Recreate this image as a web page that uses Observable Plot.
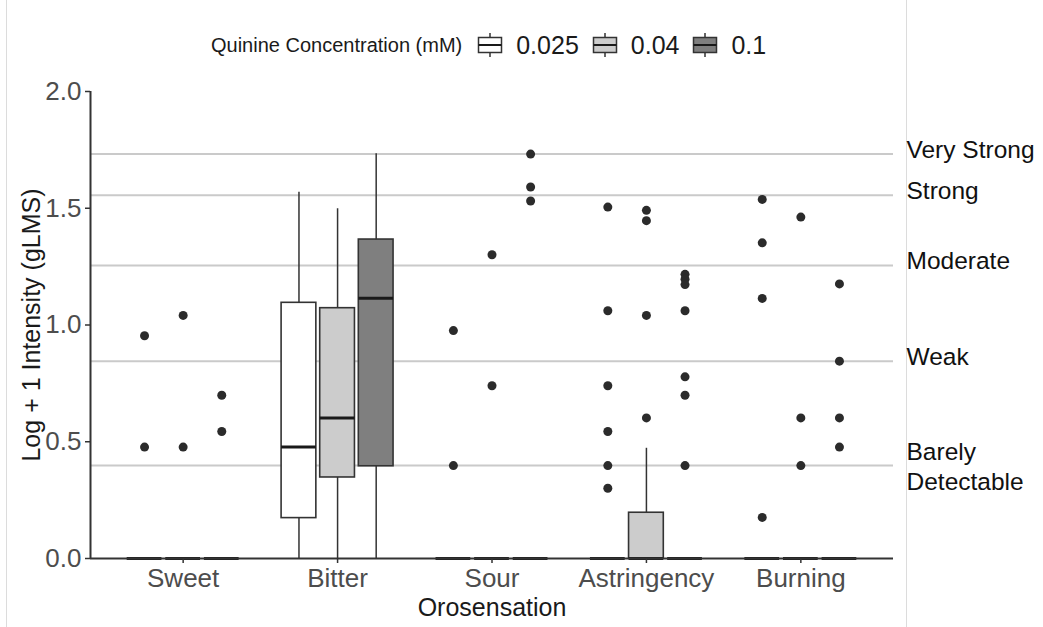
<!DOCTYPE html>
<html>
<head>
<meta charset="utf-8">
<script src="https://cdn.jsdelivr.net/npm/d3@7"></script>
<script src="https://cdn.jsdelivr.net/npm/@observablehq/plot@0.6"></script>
<style>
  html, body { margin: 0; padding: 0; background: #fff; }
  body { width: 1043px; height: 627px; position: relative; overflow: hidden; font-family: "Liberation Sans", Arial, sans-serif; }
  .vline { position: absolute; top: 0; width: 1px; height: 627px; background: #dcdcdc; }
  #legend { position: absolute; left: 211px; top: 30px; height: 30px; display: flex; align-items: center; }
  #legend .title { font-size: 20px; color: #1a1a1a; margin-right: 15px; }
  #legend .lab { font-size: 25px; color: #1a1a1a; margin-left: 13px; margin-right: 13px; }
  #chart { position: absolute; left: 0; top: 70px; }
</style>
</head>
<body>
<div class="vline" style="left:6px"></div>
<div class="vline" style="left:906px"></div>
<div id="legend"></div>
<div id="chart"></div>
<script>
// ---- data ----
const categories = ["Sweet", "Bitter", "Sour", "Astringency", "Burning"];
const concentrations = ["0.025", "0.04", "0.1"];
const fills = ["#ffffff", "#cccccc", "#7f7f7f"];

// box summaries (one per category x concentration)
const boxCategory = ["Sweet","Sweet","Sweet","Bitter","Bitter","Bitter","Sour","Sour","Sour","Astringency","Astringency","Astringency","Burning","Burning","Burning"];
const boxConc     = ["0.025","0.04","0.1","0.025","0.04","0.1","0.025","0.04","0.1","0.025","0.04","0.1","0.025","0.04","0.1"];
const whiskerLow  = [0,0,0, 0,0,0, 0,0,0, 0,0,0, 0,0,0];
const q1          = [0,0,0, 0.173,0.347,0.395, 0,0,0, 0,0,0, 0,0,0];
const median      = [0,0,0, 0.477,0.602,1.115, 0,0,0, 0,0,0, 0,0,0];
const q3          = [0,0,0, 1.095,1.072,1.366, 0,0,0, 0,0.196,0, 0,0,0];
const whiskerHigh = [0,0,0, 1.568,1.498,1.733, 0,0,0, 0,0.472,0, 0,0,0];

// outliers
const outlierCategory = [
  "Sweet","Sweet","Sweet","Sweet","Sweet","Sweet",
  "Sour","Sour","Sour","Sour","Sour","Sour","Sour",
  "Astringency","Astringency","Astringency","Astringency","Astringency","Astringency",
  "Astringency","Astringency","Astringency","Astringency",
  "Astringency","Astringency","Astringency","Astringency","Astringency","Astringency","Astringency",
  "Burning","Burning","Burning","Burning",
  "Burning","Burning","Burning",
  "Burning","Burning","Burning","Burning"
];
const outlierConc = [
  "0.025","0.025","0.04","0.04","0.1","0.1",
  "0.025","0.025","0.04","0.04","0.1","0.1","0.1",
  "0.025","0.025","0.025","0.025","0.025","0.025",
  "0.04","0.04","0.04","0.04",
  "0.1","0.1","0.1","0.1","0.1","0.1","0.1",
  "0.025","0.025","0.025","0.025",
  "0.04","0.04","0.04",
  "0.1","0.1","0.1","0.1"
];
const outlierValue = [
  0.954,0.477,1.041,0.477,0.699,0.544,
  0.976,0.398,1.301,0.740,1.732,1.591,1.531,
  1.505,1.061,0.740,0.544,0.398,0.301,
  1.491,1.447,1.041,0.602,
  1.217,1.196,1.173,1.061,0.778,0.699,0.398,
  1.538,1.352,1.114,0.176,
  1.462,0.602,0.398,
  1.176,0.845,0.602,0.477
];

// gLMS reference lines
const refLabels = ["Very Strong", "Strong", "Moderate", "Weak", "Barely\nDetectable"];
const refValues = [1.732, 1.556, 1.255, 0.845, 0.398];
const yTicks = [0, 0.5, 1.0, 1.5, 2.0];

const xTitle = "Orosensation";
const yTitle = "Log + 1 Intensity (gLMS)";
const legendTitle = "Quinine Concentration (mM)";

// ---- build ----
const boxes = boxCategory.map((c, i) => ({
  cat: c, conc: boxConc[i], lo: whiskerLow[i], q1: q1[i], med: median[i], q3: q3[i], hi: whiskerHigh[i]
}));
const outliers = outlierCategory.map((c, i) => ({cat: c, conc: outlierConc[i], value: outlierValue[i]}));
const refs = refLabels.map((l, i) => ({label: l, value: refValues[i]}));

const dodge = 0.25, half = 0.1125;
const pos = d => categories.indexOf(d.cat) + (concentrations.indexOf(d.conc) - 1) * dodge;
const xDomain = [-0.6, categories.length - 0.4];

const ink = "#333333";
const chart = Plot.plot({
  width: 1043,
  height: 557,
  marginTop: 21,
  marginBottom: 69,
  marginLeft: 90,
  marginRight: 150,
  style: {fontFamily: "'Liberation Sans', Arial, sans-serif", fontSize: "25px", background: "transparent"},
  x: {domain: xDomain, axis: null},
  y: {domain: [0, 2], axis: null},
  color: {domain: concentrations, range: fills},
  marks: [
    Plot.ruleY(refs, {y: "value", stroke: "#cacaca", strokeWidth: 2}),
    Plot.ruleX(boxes, {x: pos, y1: "lo", y2: "hi", stroke: ink, strokeWidth: 1.5}),
    Plot.rect(boxes, {x1: d => pos(d) - half, x2: d => pos(d) + half, y1: "q1", y2: "q3", fill: "conc", stroke: ink, strokeWidth: 1.6}),
    Plot.ruleY(boxes, {y: "med", x1: d => pos(d) - half, x2: d => pos(d) + half, stroke: "#1a1a1a", strokeWidth: 3}),
    Plot.dot(outliers, {x: pos, y: "value", r: 4.5, fill: "#2b2b2b", stroke: null}),
    Plot.ruleY([0], {stroke: ink, strokeWidth: 2}),
    Plot.ruleX([xDomain[0]], {stroke: ink, strokeWidth: 2}),
    Plot.axisY({ticks: yTicks, tickFormat: d3.format(".1f"), tickSize: 5, tickPadding: 4, stroke: ink, strokeWidth: 1.5, fill: "#4d4d4d", label: null, fontSize: 26}),
    Plot.axisX({ticks: d3.range(categories.length), tickFormat: i => categories[i], tickSize: 5, tickPadding: 5, stroke: ink, strokeWidth: 1.5, fill: "#4d4d4d", label: null, fontSize: 26}),
    Plot.text([yTitle], {frameAnchor: "left", rotate: -90, dx: -59, textAnchor: "middle", lineAnchor: "middle", fontSize: 25, fill: "#1a1a1a"}),
    Plot.text([xTitle], {frameAnchor: "bottom", dy: 49, textAnchor: "middle", lineAnchor: "middle", fontSize: 25, fill: "#1a1a1a"}),
    Plot.text(refs, {filter: d => !d.label.includes("\n"), y: "value", text: "label", frameAnchor: "right", dx: 13, dy: -4, textAnchor: "start", lineAnchor: "middle", fontSize: 24.5, fill: "#111"}),
    Plot.text(refs, {filter: d => d.label.includes("\n"), y: "value", text: "label", frameAnchor: "right", dx: 13, dy: 0, textAnchor: "start", lineAnchor: "middle", fontSize: 24.5, lineHeight: 1.23, fill: "#111"})
  ]
});
document.getElementById("chart").appendChild(chart);

// ---- legend ----
const legend = document.getElementById("legend");
const t = document.createElement("span");
t.className = "title";
t.textContent = legendTitle;
legend.appendChild(t);
concentrations.forEach((c, i) => {
  const ns = "http://www.w3.org/2000/svg";
  const svg = document.createElementNS(ns, "svg");
  svg.setAttribute("width", 26);
  svg.setAttribute("height", 30);
  svg.innerHTML =
    `<line x1="13" x2="13" y1="3" y2="27" stroke="${ink}" stroke-width="1.5"/>` +
    `<rect x="1.5" y="7.5" width="23" height="15" fill="${fills[i]}" stroke="${ink}" stroke-width="1.5"/>` +
    `<line x1="1.5" x2="24.5" y1="15" y2="15" stroke="#1a1a1a" stroke-width="2"/>`;
  legend.appendChild(svg);
  const l = document.createElement("span");
  l.className = "lab";
  l.textContent = c;
  legend.appendChild(l);
});
</script>
</body>
</html>
